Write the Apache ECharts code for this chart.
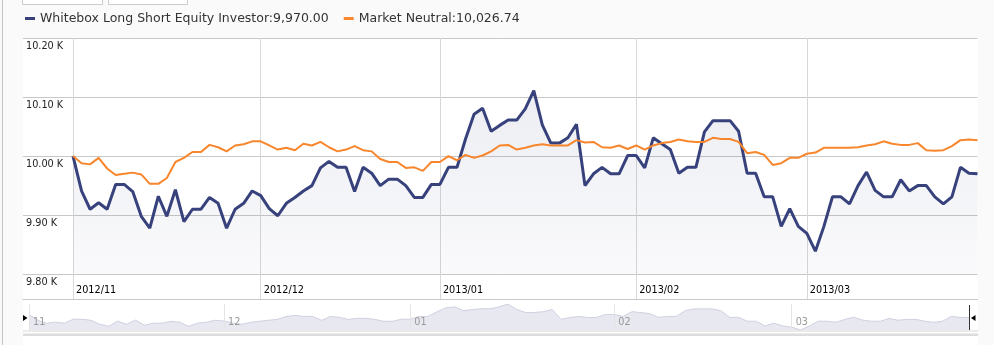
<!DOCTYPE html>
<html><head><meta charset="utf-8">
<script src="https://cdn.jsdelivr.net/npm/echarts@6/dist/echarts.min.js"></script>
<style>html,body{margin:0;padding:0;background:#fafafa}#c{width:994px;height:345px}</style>
</head><body><div id="c"></div>
<script>
const dates = [
'2012-11-01','2012-11-02','2012-11-05','2012-11-06','2012-11-07','2012-11-08','2012-11-09','2012-11-12','2012-11-13','2012-11-14','2012-11-15','2012-11-16','2012-11-19','2012-11-20','2012-11-21','2012-11-22','2012-11-23','2012-11-26','2012-11-27','2012-11-28','2012-11-29','2012-11-30',
'2012-12-03','2012-12-04','2012-12-05','2012-12-06','2012-12-07','2012-12-10','2012-12-11','2012-12-12','2012-12-13','2012-12-14','2012-12-17','2012-12-18','2012-12-19','2012-12-20','2012-12-21','2012-12-24','2012-12-25','2012-12-26','2012-12-27','2012-12-28','2012-12-31',
'2013-01-01','2013-01-02','2013-01-03','2013-01-04','2013-01-07','2013-01-08','2013-01-09','2013-01-10','2013-01-11','2013-01-14','2013-01-15','2013-01-16','2013-01-17','2013-01-18','2013-01-21','2013-01-22','2013-01-23','2013-01-24','2013-01-25','2013-01-28','2013-01-29','2013-01-30','2013-01-31',
'2013-02-01','2013-02-04','2013-02-05','2013-02-06','2013-02-07','2013-02-08','2013-02-11','2013-02-12','2013-02-13','2013-02-14','2013-02-15','2013-02-18','2013-02-19','2013-02-20','2013-02-21','2013-02-22','2013-02-25','2013-02-26','2013-02-27','2013-02-28',
'2013-03-01','2013-03-04','2013-03-05','2013-03-06','2013-03-07','2013-03-08','2013-03-11','2013-03-12','2013-03-13','2013-03-14','2013-03-15','2013-03-18','2013-03-19','2013-03-20','2013-03-21','2013-03-22','2013-03-25','2013-03-26','2013-03-27','2013-03-28','2013-03-29'
];
const whitebox = [
10000,9941,9910,9921,9910,9952,9952,9940,9898,9878,9932,9898,9943,9889,9910,9910,9930,9920,9878,9910,9920,9941,9933,
9911,9899,9920,9930,9941,9950,9980,9991,9981,9981,9940,9981,9971,9950,9961,9961,
9950,9930,9930,9952,9952,9981,9981,10029,10071,10081,10042,10052,10061,10061,10080,10111,10053,10022,10022,10031,10054,9950,9970,9981,9970,9970,10001,10001,
9980,10031,10021,10011,9971,9981,9981,10041,10060,10060,10060,10042,9971,9971,9931,9931,9881,9911,9881,9869,9839,9881,9931,9931,9919,9950,9973,9942,9931,9931,9960,9941,9950,9950,9931,9919,9931,9981,9971,9970
];
const marketNeutral = [
10000,9988,9986,9997,9979,9968,9970,9972,9969,9953,9953,9963,9990,9997,10007,10007,10019,10015,10008,10018,10020,10025,10025,
10018,10011,10014,10010,10021,10018,10024,10015,10008,10011,10017,10010,10008,9995,9990,9990,
9980,9981,9975,9990,9990,10000,9993,10002,9997,10001,10008,10018,10019,10011,10014,10018,10020,10018,10018,10018,10027,10023,10024,10015,10014,10018,10012,10018,
10011,10018,10022,10024,10028,10025,10024,10024,10031,10029,10029,10024,10005,10007,10002,9985,9988,9997,9997,10004,10006,10014,10014,10014,10014,10015,10018,10020,10025,10021,10019,10019,10022,10010,10009,10010,10017,10027,10028,10026.74
];
const seriesNames = ['Whitebox Long Short Equity Investor', 'Market Neutral'];
const yTicks = [9800, 9900, 10000, 10100, 10200];
const yMin = 9758, yMax = 10200, areaBase = 9800;

const FONT = 'DejaVu Sans';
const NAVY = '#37427c', ORANGE = '#f8862c';
const monthStart = new Set();
dates.forEach((d, i) => { if (i === 0 || d.slice(5, 7) !== dates[i - 1].slice(5, 7)) monthStart.add(i); });
const isMonth = (i) => monthStart.has(i);
const fmt = v => v.toLocaleString('en-US', {minimumFractionDigits: 2, maximumFractionDigits: 2});
const lastVals = {};
lastVals[seriesNames[0]] = whitebox[whitebox.length - 1];
lastVals[seriesNames[1]] = marketNeutral[marketNeutral.length - 1];

const chart = echarts.init(document.getElementById('c'));
chart.setOption({
  animation: false,
  backgroundColor: '#fafafa',
  legend: {
    left: 20, top: 7, icon: 'rect', itemWidth: 10, itemHeight: 3, itemGap: 15,
    data: seriesNames,
    textStyle: {fontFamily: FONT, fontSize: 12.5, color: '#333'},
    formatter: n => n + ':' + fmt(lastVals[n])
  },
  grid: [
    {left: 23, right: 16.5, top: 38, bottom: 46},
    {left: 73, right: 16.5, top: 38, bottom: 46},
    {left: 29, right: 25, top: 304, height: 26}
  ],
  xAxis: [
    {gridIndex: 0, type: 'value', min: 0, max: 1, axisLine: {show: true, lineStyle: {color: '#c8c8c8'}},
      axisTick: {show: false}, axisLabel: {show: false}, splitLine: {show: false}},
    {gridIndex: 1, type: 'category', data: dates, boundaryGap: false,
      axisLine: {show: false}, axisTick: {show: false},
      axisLabel: {inside: true, interval: isMonth, formatter: v => v.slice(0, 4) + '/' + v.slice(5, 7),
        align: 'left', padding: [0, 0, 0, 3], margin: 4, color: '#000', fontFamily: FONT, fontSize: 9.7},
      splitLine: {show: true, interval: isMonth, lineStyle: {color: '#d8d8d8'}}},
    {gridIndex: 2, type: 'category', data: dates, boundaryGap: false, z: 5,
      axisLine: {show: false}, axisTick: {show: false},
      axisLabel: {inside: true, interval: isMonth, formatter: v => v.slice(5, 7),
        align: 'left', padding: [0, 0, 0, 4], margin: 3, color: '#999', fontFamily: FONT, fontSize: 9.7},
      splitLine: {show: true, interval: isMonth, lineStyle: {color: '#e4e4e4'}}}
  ],
  yAxis: [
    {gridIndex: 0, type: 'value', min: yMin, max: yMax,
      axisLine: {show: false}, axisTick: {show: false, customValues: yTicks},
      axisLabel: {inside: true, customValues: yTicks, margin: 3, verticalAlign: 'top', padding: [3, 0, 0, 0],
        formatter: v => (v / 1000).toFixed(2) + ' K', color: '#222', fontFamily: FONT, fontSize: 9.7},
      splitLine: {show: true, lineStyle: {color: '#c8c8c8'}}},
    {gridIndex: 1, type: 'value', min: yMin, max: yMax, show: false, splitLine: {show: false}},
    {gridIndex: 2, type: 'value', min: 'dataMin', max: 'dataMax', show: false, splitLine: {show: false}}
  ],
  series: [
    {name: seriesNames[0], type: 'line', xAxisIndex: 1, yAxisIndex: 1, data: whitebox, showSymbol: false,
      lineStyle: {color: NAVY, width: 3}, itemStyle: {color: NAVY},
      areaStyle: {origin: areaBase, color: new echarts.graphic.LinearGradient(0, 0, 0, 1, [
        {offset: 0, color: 'rgba(55,66,124,0.13)'}, {offset: 1, color: 'rgba(55,66,124,0.04)'}])}},
    {name: seriesNames[1], type: 'line', xAxisIndex: 1, yAxisIndex: 1, data: marketNeutral, showSymbol: false,
      lineStyle: {color: ORANGE, width: 2}, itemStyle: {color: ORANGE}},
    {name: 'navigator', type: 'line', xAxisIndex: 2, yAxisIndex: 2, data: whitebox, showSymbol: false, silent: true,
      lineStyle: {color: '#cfd0e0', width: 1}, itemStyle: {color: '#cfd0e0'},
      areaStyle: {color: '#e8e8f0', opacity: 1}}
  ],
  graphic: [
    {type: 'rect', z: -10, shape: {x: 23, y: 38, width: 955, height: 307}, style: {fill: '#ffffff'}},
    {type: 'line', shape: {x1: 2.5, y1: 0, x2: 2.5, y2: 345}, style: {stroke: '#c4c4c4', lineWidth: 1}},
    {type: 'rect', shape: {x: 22.5, y: -20, width: 80, height: 24.5}, style: {fill: '#fff', stroke: '#cccccc', lineWidth: 1}},
    {type: 'rect', shape: {x: 108.5, y: -20, width: 79, height: 24.5}, style: {fill: '#fff', stroke: '#cccccc', lineWidth: 1}},
    {type: 'rect', shape: {x: 23, y: 330, width: 955, height: 2}, style: {fill: '#eaeaea'}},
    {type: 'rect', shape: {x: 23, y: 333.5, width: 955, height: 2.5}, style: {fill: '#dcdcdc'}},
    {type: 'line', shape: {x1: 29.5, y1: 305, x2: 29.5, y2: 330}, style: {stroke: '#333', lineWidth: 1}},
    {type: 'polygon', shape: {points: [[23, 315], [27.5, 318], [23, 321]]}, style: {fill: '#000'}},
    {type: 'line', shape: {x1: 969.5, y1: 305, x2: 969.5, y2: 330}, style: {stroke: '#333', lineWidth: 1}},
    {type: 'polygon', shape: {points: [[975.5, 315], [971, 318], [975.5, 321]]}, style: {fill: '#000'}}
  ]
});
</script>
</body></html>
